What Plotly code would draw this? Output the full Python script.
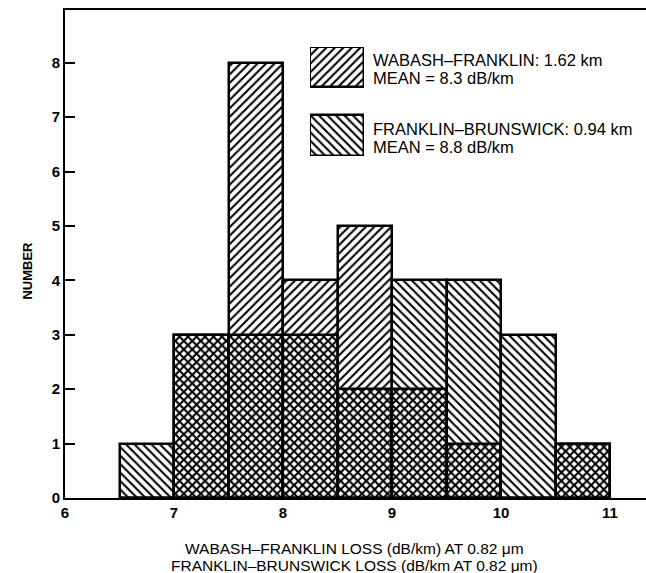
import plotly.graph_objects as go

# Data (bins of width 0.5 dB/km, left edges)
bin_starts = [6.5, 7.0, 7.5, 8.0, 8.5, 9.0, 9.5, 10.0, 10.5]
wabash_franklin = [0, 3, 8, 4, 5, 2, 1, 0, 1]
franklin_brunswick = [1, 3, 3, 3, 2, 4, 4, 3, 1]
bin_width = 0.5
x_ticks = [6, 7, 8, 9, 10, 11]
y_ticks = [0, 1, 2, 3, 4, 5, 6, 7, 8]
legend_lines = ["WABASH\u2013FRANKLIN: 1.62 km", "MEAN = 8.3 dB/km",
                "FRANKLIN\u2013BRUNSWICK: 0.94 km", "MEAN = 8.8 dB/km"]
x_title_lines = ["WABASH\u2013FRANKLIN LOSS (dB/km) AT 0.82 \u03bcm",
                 "FRANKLIN\u2013BRUNSWICK LOSS (dB/km AT 0.82 \u03bcm)"]

centers = [b + bin_width / 2 for b in bin_starts]
FONT = "Liberation Sans"
CLEAR = "rgba(0,0,0,0)"

def pat(shape):
    return dict(shape=shape, fgcolor="black", bgcolor=CLEAR, size=6,
                solidity=0.35, fillmode="replace")

fig = go.Figure()
fig.add_trace(go.Bar(x=centers, y=wabash_franklin, width=bin_width,
                     marker=dict(color=CLEAR, line=dict(color="black", width=2.5),
                                 pattern=pat("/")),
                     showlegend=False, hoverinfo="skip"))
fig.add_trace(go.Bar(x=centers, y=franklin_brunswick, width=bin_width,
                     marker=dict(color=CLEAR, line=dict(color="black", width=2.5),
                                 pattern=pat("\\")),
                     showlegend=False, hoverinfo="skip"))

# legend swatches on an auxiliary axis
fig.add_trace(go.Bar(x=[0], y=[0.367], base=[0.633], width=1,
                     xaxis="x2", yaxis="y2",
                     marker=dict(color=CLEAR, line=dict(color="black", width=2.5),
                                 pattern=pat("/")),
                     showlegend=False, hoverinfo="skip"))
fig.add_trace(go.Bar(x=[0], y=[0.376], base=[0], width=1,
                     xaxis="x2", yaxis="y2",
                     marker=dict(color=CLEAR, line=dict(color="black", width=2.5),
                                 pattern=pat("\\")),
                     showlegend=False, hoverinfo="skip"))

fig.update_layout(
    width=646, height=573,
    margin=dict(l=65, r=0, t=10, b=75),
    paper_bgcolor="white", plot_bgcolor="white",
    barmode="overlay", bargap=0,
    font=dict(family=FONT, color="black"),
    xaxis=dict(range=[6, 11.33], tickvals=x_ticks, ticks="", showgrid=False,
               zeroline=False, showline=True, linecolor="black", linewidth=2,
               mirror=True, tickfont=dict(size=15, family=FONT, weight="bold"),
               fixedrange=True),
    yaxis=dict(range=[0, 8.97], tickvals=y_ticks, ticks="inside", ticklen=10,
               tickwidth=2, tickcolor="black", showgrid=False, zeroline=False,
               showline=True, linecolor="black", linewidth=2, mirror=False,
               tickfont=dict(size=15, family=FONT, weight="bold"),
               fixedrange=True),
    xaxis2=dict(domain=[0.4217, 0.5146], range=[-0.5, 0.5], anchor="y2",
                visible=False, fixedrange=True),
    yaxis2=dict(domain=[0.701, 0.924], range=[0, 1], anchor="x2",
                visible=False, fixedrange=True),
)

legend_y = [0.8975, 0.8607, 0.7561, 0.7193]
for txt, yy in zip(legend_lines, legend_y):
    fig.add_annotation(x=0.526, y=yy, xref="paper", yref="paper", xanchor="left",
                       yanchor="middle", align="left", showarrow=False,
                       text=txt, font=dict(size=16.5, family=FONT))
fig.add_annotation(x=-0.081, y=0.467, xref="paper", yref="paper", textangle=-90,
                   showarrow=False, text="NUMBER",
                   font=dict(size=13, family=FONT, weight="bold"))
for txt, yy in zip(x_title_lines, [-0.1025, -0.1393]):
    fig.add_annotation(x=0.499, y=yy, xref="paper", yref="paper",
                       xanchor="center", yanchor="middle", showarrow=False,
                       text=txt, font=dict(size=15.5, family=FONT))

fig.write_html("out.html", config={"displayModeBar": False},
               post_script="document.body.style.margin='0';"
                           "document.body.style.overflow='hidden';")
